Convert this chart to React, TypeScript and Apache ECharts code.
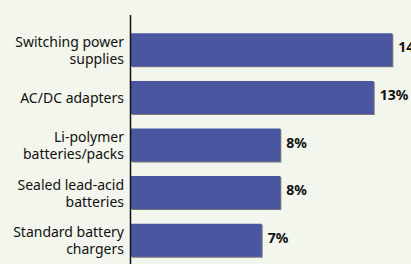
import React, { useEffect, useRef } from "react";
import * as echarts from "echarts";

const categories = [
  "Switching power\nsupplies",
  "AC/DC adapters",
  "Li-polymer\nbatteries/packs",
  "Sealed lead-acid\nbatteries",
  "Standard battery\nchargers",
];
const values = [14, 13, 8, 8, 7];

export default function App() {
  const ref = useRef<HTMLDivElement>(null);
  useEffect(() => {
    document.body.style.margin = "0";
    const chart = echarts.init(ref.current!, null, { renderer: "svg" });
    chart.setOption({
      animation: false,
      backgroundColor: "#f3f6ec",
      grid: { left: 131, top: 26, width: 281, height: 240 },
      xAxis: {
        type: "value",
        min: 0,
        max: 15,
        show: false,
      },
      yAxis: {
        type: "category",
        inverse: true,
        data: categories,
        axisLine: { show: false },
        axisTick: { show: false },
        axisLabel: {
          color: "#111",
          fontFamily: "Noto Sans",
          fontSize: 14,
          lineHeight: 17,
          margin: 7,
          align: "right",
        },
      },
      graphic: [
        {
          type: "line",
          shape: { x1: 130.5, y1: 15, x2: 130.5, y2: 264 },
          style: { stroke: "#111", lineWidth: 1.5 },
          z: 10,
        },
      ],
      series: [
        {
          type: "bar",
          data: values,
          barWidth: 33,
          itemStyle: {
            color: "#4b56a0",
            shadowColor: "rgba(90,90,90,0.8)",
            shadowOffsetX: 1,
            shadowOffsetY: 1,
            shadowBlur: 0,
          },
          label: {
            show: true,
            position: "right",
            distance: 6,
            offset: [0, -3],
            formatter: "{c}%",
            color: "#111",
            fontFamily: "Noto Sans",
            fontWeight: "bold",
            fontSize: 14,
          },
        },
      ],
    });
    return () => chart.dispose();
  }, []);
  return <div ref={ref} style={{ width: 411, height: 264 }} />;
}
